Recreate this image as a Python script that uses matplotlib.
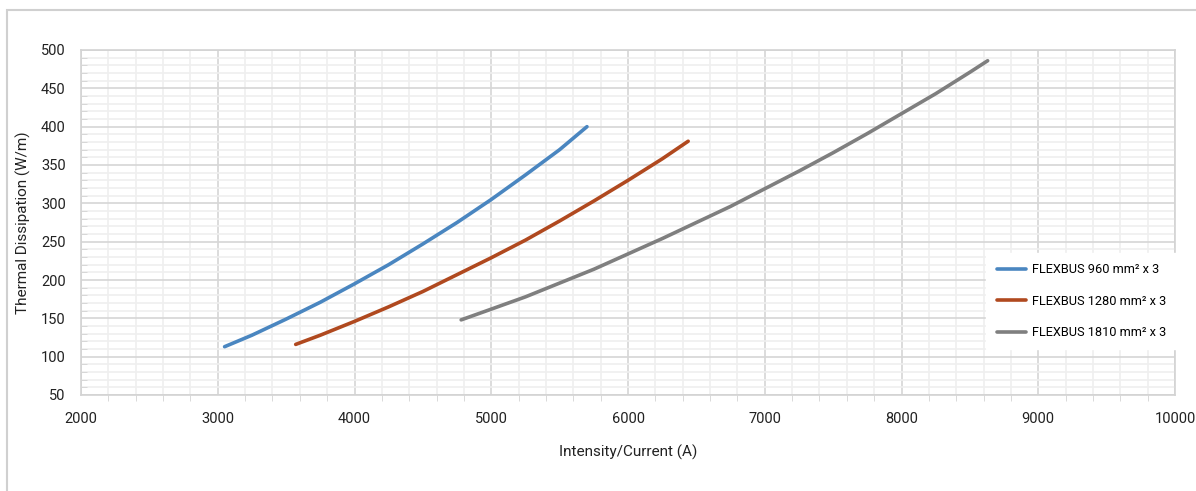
import matplotlib
matplotlib.use("Agg")
import matplotlib.pyplot as plt
from matplotlib.ticker import MultipleLocator
from matplotlib.patches import Rectangle

plt.rcParams['font.family'] = ['Roboto', 'DejaVu Sans']

# Data
blue_x = [3050, 3250, 3500, 3750, 4000, 4250, 4500, 4750, 5000, 5250, 5500, 5700]
blue_y = [113, 128, 149, 171, 195, 220, 247, 275, 305, 337, 370, 400]

brown_x = [3570, 3750, 4000, 4250, 4500, 4750, 5000, 5250, 5500, 5750, 6000, 6250, 6440]
brown_y = [116, 128, 146, 165, 185, 207, 229, 252, 277, 303, 330, 358, 381]

gray_x = [4780, 5000, 5250, 5500, 5750, 6000, 6250, 6500, 6750, 7000, 7250, 7500,
          7750, 8000, 8250, 8500, 8630]
gray_y = [148, 162, 178, 196, 214, 234, 254, 275, 296, 319, 342, 366,
          391, 417, 443, 471, 486]

labels = ["FLEXBUS 960 mm² x 3", "FLEXBUS 1280 mm² x 3", "FLEXBUS 1810 mm² x 3"]
colors = ["#4a86c0", "#b0491f", "#7f7f7f"]

x_label = "Intensity/Current (A)"
y_label = "Thermal Dissipation (W/m)"

W, H = 1196, 491
fig = plt.figure(figsize=(W / 100, H / 100), dpi=100)
ax = fig.add_axes([81 / W, 1 - 395 / H, (1175 - 81) / W, (395 - 50) / H])

# figure border
fig.patches.append(Rectangle((7 / W, -0.05), 1.2, 1 - 10 / H + 0.05,
                             transform=fig.transFigure, fill=False,
                             edgecolor="#d0d0d0", linewidth=1.5))

for xs, ys, lab, c in zip([blue_x, brown_x, gray_x], [blue_y, brown_y, gray_y], labels, colors):
    ax.plot(xs, ys, color=c, linewidth=2.6, label=lab, solid_capstyle='round',
            solid_joinstyle='round', zorder=3)

ax.set_xlim(2000, 10000)
ax.set_ylim(50, 500)
ax.xaxis.set_major_locator(MultipleLocator(1000))
ax.xaxis.set_minor_locator(MultipleLocator(200))
ax.yaxis.set_major_locator(MultipleLocator(50))
ax.yaxis.set_minor_locator(MultipleLocator(10))

ax.grid(which='major', color="#d6d6d6", linewidth=1.2, zorder=1)
ax.grid(which='minor', color="#efefef", linewidth=1.2, zorder=0)
ax.set_axisbelow(True)

for s in ax.spines.values():
    s.set_color("#d3d3d3")
    s.set_linewidth(1.2)

ax.tick_params(which='major', length=0, labelsize=10.5, colors="#222222")
ax.tick_params(axis='y', which='major', pad=11)
ax.tick_params(axis='x', which='major', pad=12)
ax.tick_params(axis='x', which='minor', direction='out', length=4, color="#d3d3d3")
ax.tick_params(axis='y', which='minor', direction='in', length=4, color="#d3d3d3")

ax.set_xlabel(x_label, fontsize=11, color="#222222", labelpad=14)
ax.set_ylabel(y_label, fontsize=11, color="#222222", labelpad=7)

leg = ax.legend(loc='center left', bbox_to_anchor=((980 - 81) / (1175 - 81), 0.272),
                frameon=True, fontsize=9.2, handlelength=2.3, labelspacing=1.45,
                borderpad=0.8, handletextpad=0.5, fancybox=False)
leg.get_frame().set_edgecolor("white")
leg.get_frame().set_facecolor("white")
leg.get_frame().set_alpha(1.0)

fig.savefig("out.png", dpi=100)
